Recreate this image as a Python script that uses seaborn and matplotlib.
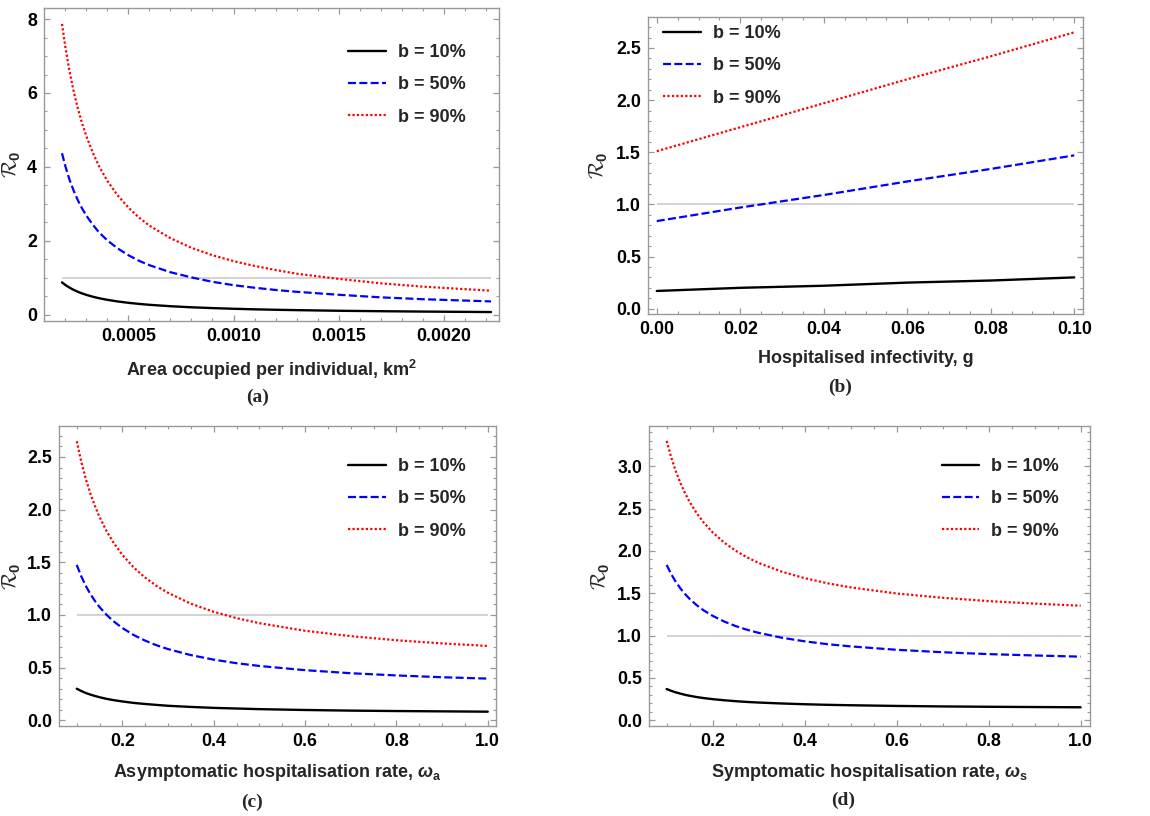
import numpy as np
import pandas as pd
import matplotlib
matplotlib.use('Agg')
import matplotlib.pyplot as plt
from matplotlib.ticker import MultipleLocator, FormatStrFormatter
import seaborn as sns

# (a) area per individual
area = [0.000184, 0.0002, 0.00022, 0.00024, 0.00026, 0.00028, 0.0003, 0.00033, 0.00036,
        0.0004, 0.00045, 0.0005, 0.00055, 0.0006, 0.0007, 0.0008, 0.0009, 0.0010,
        0.0011, 0.0012, 0.0013, 0.0015, 0.0017, 0.0019, 0.002225]
area_b10 = [0.875, 0.805, 0.732, 0.671, 0.619, 0.575, 0.537, 0.488, 0.447, 0.403, 0.358, 0.322, 0.293,
            0.268, 0.230, 0.201, 0.179, 0.161, 0.146, 0.134, 0.124, 0.107, 0.095, 0.085, 0.072]
area_b50 = [4.37, 4.02, 3.65, 3.35, 3.09, 2.87, 2.68, 2.44, 2.23, 2.01, 1.79, 1.61, 1.46,
            1.34, 1.15, 1.01, 0.89, 0.80, 0.73, 0.67, 0.62, 0.54, 0.47, 0.42, 0.36]
area_b90 = [7.87, 7.24, 6.58, 6.03, 5.57, 5.17, 4.83, 4.39, 4.02, 3.62, 3.22, 2.90, 2.63,
            2.41, 2.07, 1.81, 1.61, 1.45, 1.32, 1.21, 1.11, 0.97, 0.85, 0.76, 0.65]

# (b) hospitalised infectivity
g = [0.0, 0.02, 0.04, 0.06, 0.08, 0.10]
g_b10 = [0.17, 0.20, 0.22, 0.25, 0.27, 0.30]
g_b50 = [0.84, 0.97, 1.09, 1.22, 1.34, 1.47]
g_b90 = [1.51, 1.74, 1.97, 2.20, 2.42, 2.65]

# (c) asymptomatic hospitalisation rate
wa = [0.10, 0.11, 0.12, 0.13, 0.14, 0.15, 0.165, 0.18, 0.2, 0.225, 0.25, 0.275, 0.3,
      0.35, 0.4, 0.45, 0.5, 0.6, 0.7, 0.8, 0.9, 1.0]
wa_b10 = [0.300, 0.278, 0.259, 0.244, 0.231, 0.219, 0.204, 0.192, 0.179, 0.165, 0.155,
          0.146, 0.138, 0.127, 0.118, 0.112, 0.106, 0.098, 0.092, 0.088, 0.085, 0.082]
wa_b50 = [1.475, 1.366, 1.275, 1.198, 1.132, 1.075, 1.003, 0.942, 0.876, 0.809, 0.756,
          0.712, 0.676, 0.619, 0.576, 0.542, 0.516, 0.476, 0.447, 0.426, 0.409, 0.396]
wa_b90 = [2.650, 2.454, 2.290, 2.151, 2.033, 1.930, 1.799, 1.690, 1.570, 1.450, 1.354,
          1.275, 1.210, 1.107, 1.030, 0.970, 0.922, 0.850, 0.799, 0.760, 0.730, 0.706]

# (d) symptomatic hospitalisation rate
ws = [0.10, 0.11, 0.12, 0.13, 0.14, 0.15, 0.165, 0.18, 0.2, 0.225, 0.25, 0.275, 0.3,
      0.35, 0.4, 0.45, 0.5, 0.6, 0.7, 0.8, 0.9, 1.0]
ws_b10 = [0.370, 0.348, 0.330, 0.315, 0.301, 0.290, 0.275, 0.263, 0.250, 0.237, 0.226,
          0.217, 0.210, 0.199, 0.190, 0.183, 0.178, 0.170, 0.164, 0.160, 0.157, 0.154]
ws_b50 = [1.835, 1.726, 1.634, 1.557, 1.491, 1.434, 1.361, 1.300, 1.234, 1.167, 1.113,
          1.069, 1.033, 0.976, 0.933, 0.899, 0.873, 0.833, 0.804, 0.782, 0.766, 0.752]
ws_b90 = [3.300, 3.103, 2.940, 2.801, 2.682, 2.579, 2.448, 2.339, 2.219, 2.099, 2.003,
          1.924, 1.859, 1.756, 1.679, 1.618, 1.570, 1.498, 1.447, 1.408, 1.378, 1.354]

labels = ['b = 10%', 'b = 50%', 'b = 90%']

sns.set_style('ticks')
plt.rcParams['font.family'] = ['Liberation Sans', 'DejaVu Sans']
plt.rcParams['font.weight'] = 'bold'
plt.rcParams['axes.labelweight'] = 'bold'
plt.rcParams['mathtext.fontset'] = 'custom'
plt.rcParams['mathtext.rm'] = 'Liberation Sans:bold'
plt.rcParams['mathtext.bf'] = 'Liberation Sans:bold'
plt.rcParams['mathtext.it'] = 'Liberation Sans:italic:bold'
plt.rcParams['mathtext.cal'] = 'cmsy10'

W, H = 1150, 816
fig = plt.figure(figsize=(W / 100, H / 100), dpi=100)


def rect(l, r, t, b):
    return [l / W, (H - b) / H, (r - l) / W, (b - t) / H]


styles = [dict(color='black', linestyle='-', linewidth=1.7),
          dict(color='#0000ff', linestyle=(0, (3.6, 1.5)), linewidth=1.6),
          dict(color='#ff0000', linestyle=(0, (1.0, 1.0)), linewidth=1.6)]

panels = [
    dict(rect=rect(44, 499, 8, 321), x=area, ys=[area_b10, area_b50, area_b90],
         xlim=(0.0000984, 0.002263), ylim=(-0.17, 8.30),
         xmin=0.0001, ymaj=2, ymin=0.5, xfmt='%.4f', yfmt='%d',
         xticks=[0.0005, 0.0010, 0.0015, 0.0020],
         xlabel='Area occupied per individual, km$^\\mathbf{2}$',
         xlab_y=-0.118, ylab_x=-0.046, leg=('upper right', (0.927, 0.885)),
         tag='(a)', tag_xy=(258, 397)),
    dict(rect=rect(648, 1083, 17, 314), x=g, ys=[g_b10, g_b50, g_b90],
         xlim=(-0.0021, 0.1021), ylim=(-0.051, 2.797),
         xmin=0.005, ymaj=0.5, ymin=0.1, xfmt='%.2f', yfmt='%.1f',
         xticks=[0.0, 0.02, 0.04, 0.06, 0.08, 0.10],
         xlabel='Hospitalised infectivity, g',
         xlab_y=-0.121, ylab_x=-0.087, leg=('upper left', (0.034, 0.973)),
         tag='(b)', tag_xy=(840, 387)),
    dict(rect=rect(59, 496, 426, 726), x=wa, ys=[wa_b10, wa_b50, wa_b90],
         xlim=(0.0612, 1.018), ylim=(-0.054, 2.794),
         xmin=0.05, ymaj=0.5, ymin=0.1, xfmt='%.1f', yfmt='%.1f',
         xticks=[0.2, 0.4, 0.6, 0.8, 1.0],
         xlabel='Asymptomatic hospitalisation rate, $\\omega_{\\mathrm{a}}$',
         xlab_y=-0.12, ylab_x=-0.082, leg=('upper right', (0.931, 0.893)),
         tag='(c)', tag_xy=(252, 802)),
    dict(rect=rect(649, 1090, 426, 726), x=ws, ys=[ws_b10, ws_b50, ws_b90],
         xlim=(0.0616, 1.0203), ylim=(-0.067, 3.476),
         xmin=0.05, ymaj=0.5, ymin=0.1, xfmt='%.1f', yfmt='%.1f',
         xticks=[0.2, 0.4, 0.6, 0.8, 1.0],
         xlabel='Symptomatic hospitalisation rate, $\\omega_{\\mathrm{s}}$',
         xlab_y=-0.12, ylab_x=-0.084, leg=('upper right', (0.930, 0.893)),
         tag='(d)', tag_xy=(843, 800)),
]

for p in panels:
    ax = fig.add_axes(p['rect'])
    ax.hlines(1.0, p['x'][0], p['x'][-1], color='#c8c8c8', linewidth=1.1, zorder=1)
    for y, lab, st in zip(p['ys'], labels, styles):
        df = pd.DataFrame({'x': p['x'], 'R0': y})
        sns.lineplot(data=df, x='x', y='R0', ax=ax, label=lab, **st)
    ax.set_xlim(*p['xlim'])
    ax.set_ylim(*p['ylim'])
    ax.set_xticks(p['xticks'])
    ax.xaxis.set_minor_locator(MultipleLocator(p['xmin']))
    ax.yaxis.set_major_locator(MultipleLocator(p['ymaj']))
    ax.yaxis.set_minor_locator(MultipleLocator(p['ymin']))
    ax.xaxis.set_major_formatter(FormatStrFormatter(p['xfmt']))
    ax.yaxis.set_major_formatter(FormatStrFormatter(p['yfmt']))
    ax.tick_params(which='both', direction='in', top=True, right=True,
                   color='#999999', labelsize=12.8, labelcolor='black', pad=5)
    ax.tick_params(which='major', length=4, width=0.9)
    ax.tick_params(which='minor', length=2.2, width=0.8)
    for lbl in ax.get_xticklabels() + ax.get_yticklabels():
        lbl.set_fontweight('bold')
    for s in ax.spines.values():
        s.set_color('#999999')
        s.set_linewidth(1.0)
    ax.set_xlabel(p['xlabel'], fontsize=13, fontweight='bold')
    ax.set_ylabel('$\\mathcal{R}_0$', fontsize=15)
    ax.xaxis.set_label_coords(0.5, p['xlab_y'])
    ax.yaxis.set_label_coords(p['ylab_x'], 0.5)
    ax.legend(loc=p['leg'][0], bbox_to_anchor=p['leg'][1], frameon=False,
              borderaxespad=0, borderpad=0, handlelength=2.1,
              handletextpad=0.66, labelspacing=0.85,
              prop={'size': 13, 'weight': 'bold'})
    fig.text(p['tag_xy'][0] / W, 1 - p['tag_xy'][1] / H, p['tag'],
             ha='center', va='center', fontsize=14, fontweight='bold',
             family=['Liberation Serif', 'DejaVu Serif'])

fig.savefig('out.png', dpi=100)
